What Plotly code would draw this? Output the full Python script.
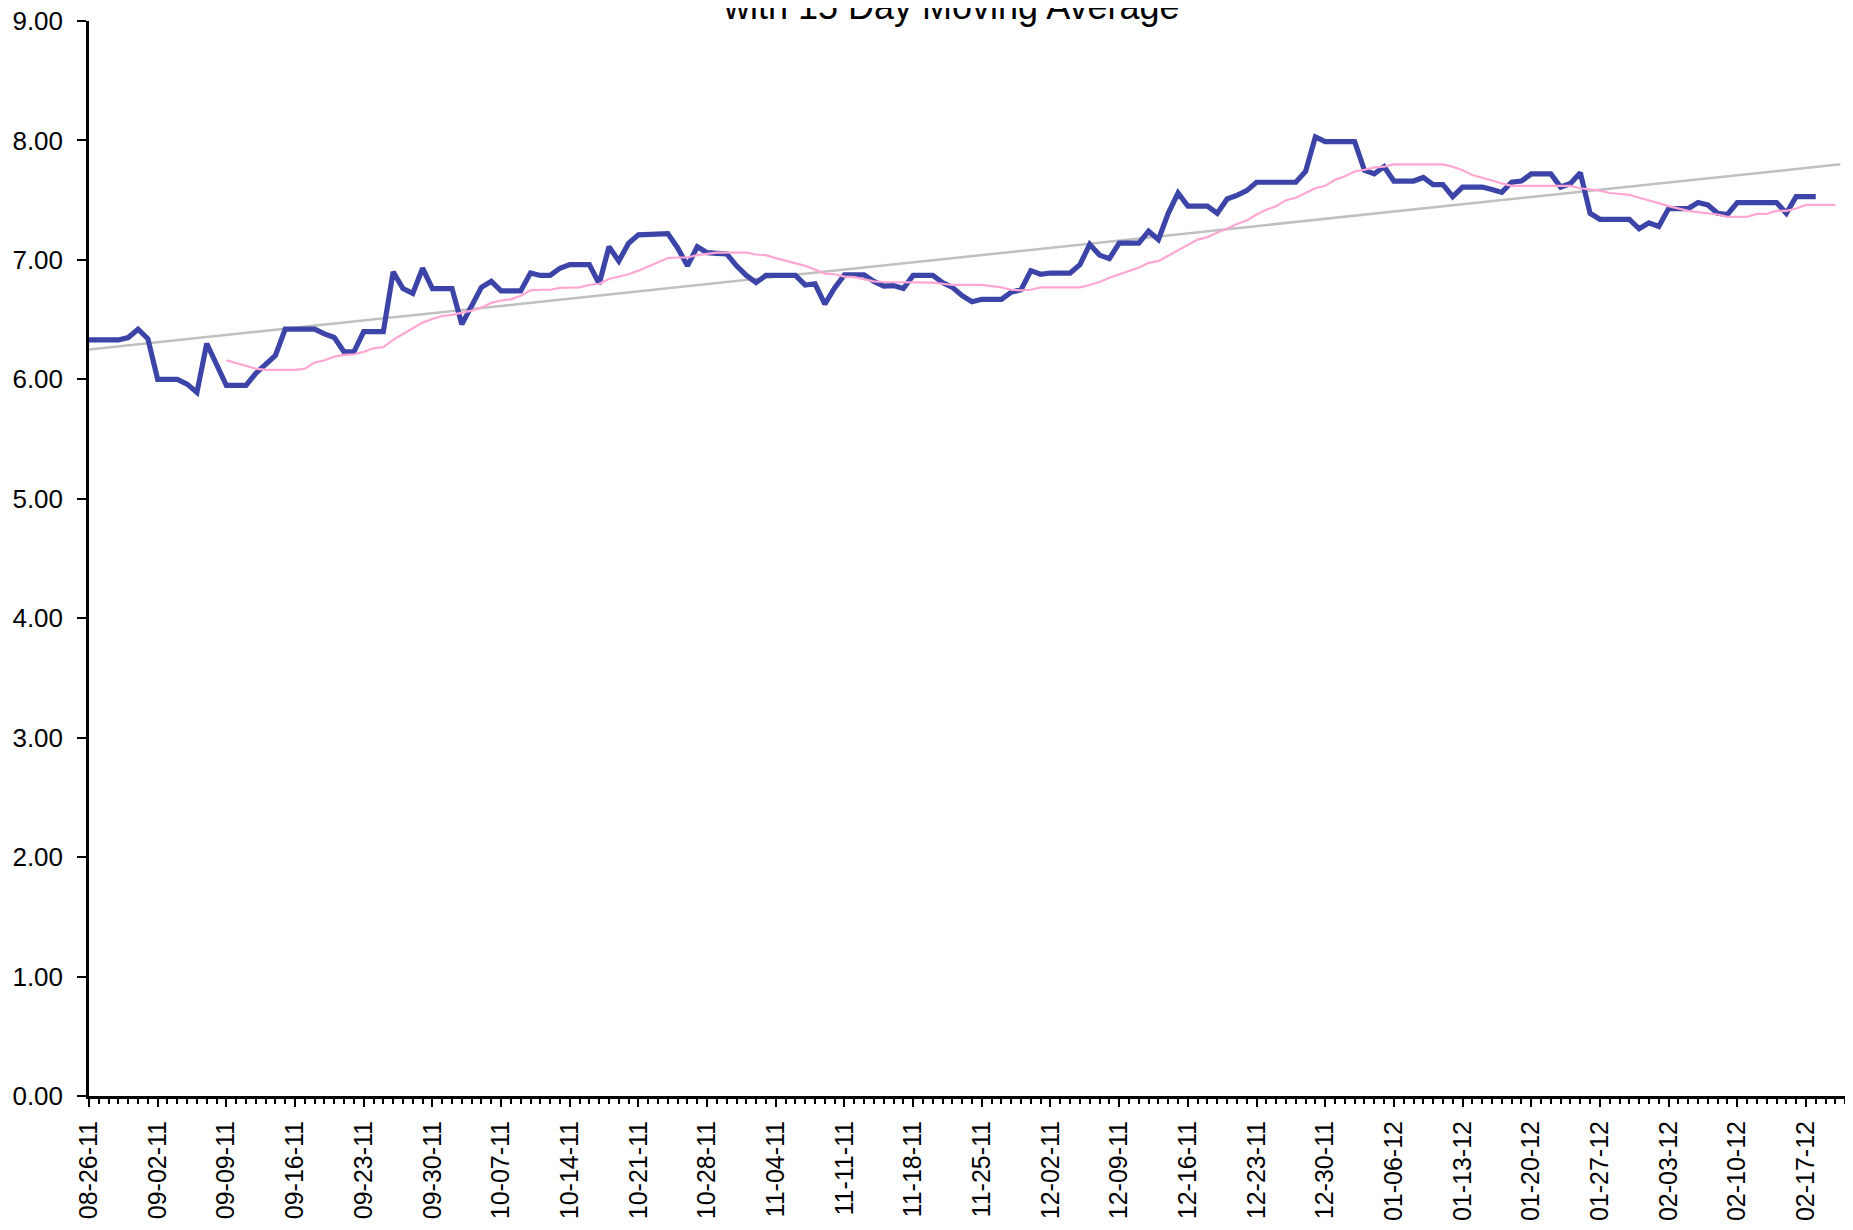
import pandas as pd
import plotly.graph_objects as go

start_date = "2011-08-26"

price = [
    6.33, 6.33, 6.33, 6.33, 6.35, 6.42, 6.34, 6.00, 6.00, 6.00,
    5.96, 5.89, 6.30, 6.13, 5.95, 5.95, 5.95, 6.05, 6.12, 6.20,
    6.42, 6.42, 6.42, 6.42, 6.38, 6.35, 6.23, 6.23, 6.40, 6.40,
    6.40, 6.90, 6.76, 6.72, 6.93, 6.76, 6.76, 6.76, 6.46, 6.61,
    6.77, 6.82, 6.74, 6.74, 6.74, 6.89, 6.87, 6.87, 6.93, 6.96,
    6.96, 6.96, 6.80, 7.11, 6.99, 7.14, 7.21, 7.21, 7.21, 7.22,
    7.10, 6.95, 7.11, 7.06, 7.055, 7.05, 6.95, 6.87, 6.81, 6.87,
    6.87, 6.87, 6.87, 6.79, 6.80, 6.63, 6.765, 6.875, 6.875, 6.875,
    6.82, 6.78, 6.785, 6.76, 6.87, 6.87, 6.87, 6.81, 6.77, 6.70,
    6.65, 6.67, 6.67, 6.67, 6.73, 6.75, 6.91, 6.88, 6.89, 6.89,
    6.89, 6.96, 7.13, 7.04, 7.01, 7.14, 7.14, 7.14, 7.24, 7.17,
    7.39, 7.56, 7.45, 7.45, 7.45, 7.39, 7.51, 7.54, 7.58, 7.65,
    7.65, 7.65, 7.65, 7.65, 7.74, 8.03, 7.99, 7.99, 7.99, 7.99,
    7.75, 7.72, 7.78, 7.66, 7.66, 7.66, 7.69, 7.63, 7.63, 7.53,
    7.61, 7.61, 7.61, 7.59, 7.565, 7.65, 7.66, 7.72, 7.72, 7.72,
    7.61, 7.64, 7.73, 7.39, 7.34, 7.34, 7.34, 7.34, 7.26, 7.31,
    7.28, 7.43, 7.43, 7.43, 7.48, 7.46, 7.39, 7.38, 7.48, 7.48,
    7.48, 7.48, 7.48, 7.39, 7.53, 7.53, 7.53,
]

ma_start_date = "2011-09-09"
moving_avg = [
    6.16, 6.135, 6.11, 6.09, 6.08, 6.08, 6.08, 6.08, 6.09, 6.14,
    6.16, 6.19, 6.205, 6.21, 6.23, 6.26, 6.27, 6.33, 6.38, 6.43,
    6.475, 6.505, 6.53, 6.54, 6.555, 6.575, 6.60, 6.64, 6.66, 6.67,
    6.70, 6.745, 6.75, 6.75, 6.765, 6.77, 6.77, 6.79, 6.80, 6.84,
    6.86, 6.88, 6.91, 6.945, 6.975, 7.015, 7.02, 7.02, 7.04, 7.05,
    7.06, 7.06, 7.06, 7.06, 7.045, 7.04, 7.015, 6.995, 6.975, 6.95,
    6.92, 6.885, 6.88, 6.86, 6.855, 6.84, 6.82, 6.815, 6.815, 6.815,
    6.815, 6.815, 6.81, 6.80, 6.79, 6.79, 6.79, 6.79, 6.78, 6.77,
    6.75, 6.745, 6.75, 6.77, 6.77, 6.77, 6.77, 6.77, 6.79, 6.815,
    6.85, 6.88, 6.905, 6.935, 6.975, 6.99, 7.035, 7.08, 7.12, 7.17,
    7.19, 7.23, 7.26, 7.30, 7.33, 7.38, 7.42, 7.45, 7.50, 7.52,
    7.56, 7.60, 7.62, 7.67, 7.70, 7.74, 7.755, 7.775, 7.78, 7.80,
    7.80, 7.80, 7.80, 7.80, 7.80, 7.78, 7.75, 7.71, 7.69, 7.665,
    7.64, 7.62, 7.62, 7.62, 7.62, 7.62, 7.62, 7.62, 7.60, 7.59,
    7.58, 7.56, 7.55, 7.545, 7.52, 7.50, 7.475, 7.45, 7.43, 7.41,
    7.40, 7.39, 7.38, 7.36, 7.36, 7.36, 7.385, 7.385, 7.41, 7.41,
    7.43, 7.46, 7.46, 7.46, 7.46,
]

trend_dates = ["2011-08-26", "2012-02-20 12:00"]
trend_values = [6.25, 7.80]

y_tick_values = [0, 1, 2, 3, 4, 5, 6, 7, 8, 9]
y_tick_labels = ["0.00", "1.00", "2.00", "3.00", "4.00", "5.00", "6.00", "7.00", "8.00", "9.00"]

title_text = "with 15 Day Moving Average"

price_dates = pd.date_range(start_date, periods=len(price), freq="D")
ma_dates = pd.date_range(ma_start_date, periods=len(moving_avg), freq="D")

FONT = "Liberation Sans, Arial, sans-serif"
DAY_MS = 86400000

fig = go.Figure()
fig.add_trace(go.Scatter(
    x=trend_dates, y=trend_values, mode="lines",
    line=dict(color="#C0C0C0", width=2.5), hoverinfo="skip", showlegend=False,
))
fig.add_trace(go.Scatter(
    x=price_dates, y=price, mode="lines",
    line=dict(color="#3C44A8", width=5.2), showlegend=False,
))
fig.add_trace(go.Scatter(
    x=ma_dates, y=moving_avg, mode="lines",
    line=dict(color="#FFA6D2", width=2.2), showlegend=False,
))

fig.update_layout(
    width=1845, height=1222,
    margin=dict(l=81, r=7, t=13, b=134),
    paper_bgcolor="white", plot_bgcolor="white",
    font=dict(family=FONT, color="black"),
    showlegend=False,
    annotations=[dict(
        text=title_text, xref="paper", yref="paper",
        x=(951.5 - 89) / (1846 - 89), y=1.0, xanchor="center", yanchor="bottom",
        yshift=-8,
        showarrow=False, font=dict(size=36, family=FONT, color="black"),
    )],
)

fig.update_xaxes(
    type="date", automargin=False,
    range=["2011-08-26 00:00", "2012-02-21 02:00"],
    tick0=start_date, dtick=7 * DAY_MS, tickformat="%m-%d-%y",
    tickangle=-90, tickfont=dict(size=25, family=FONT, color="black"),
    ticks="outside", ticklen=8, tickwidth=2, tickcolor="black",
    showline=True, linecolor="black", linewidth=3,
    showgrid=False, zeroline=False,
    ticklabelstandoff=4, ticklabeloverflow="allow",
    minor=dict(dtick=DAY_MS, tick0=start_date, ticks="outside", ticklen=5,
               tickwidth=1.5, tickcolor="black", showgrid=False),
)
fig.update_yaxes(
    range=[0, 9], automargin=False,
    tickvals=y_tick_values, ticktext=y_tick_labels,
    tickfont=dict(size=26, family=FONT, color="black"),
    ticks="outside", ticklen=9, tickwidth=2, tickcolor="black",
    showline=True, linecolor="black", linewidth=2.5,
    showgrid=False, zeroline=False,
    ticklabelstandoff=9, ticklabeloverflow="allow",
)

fig.write_html("out.html")
